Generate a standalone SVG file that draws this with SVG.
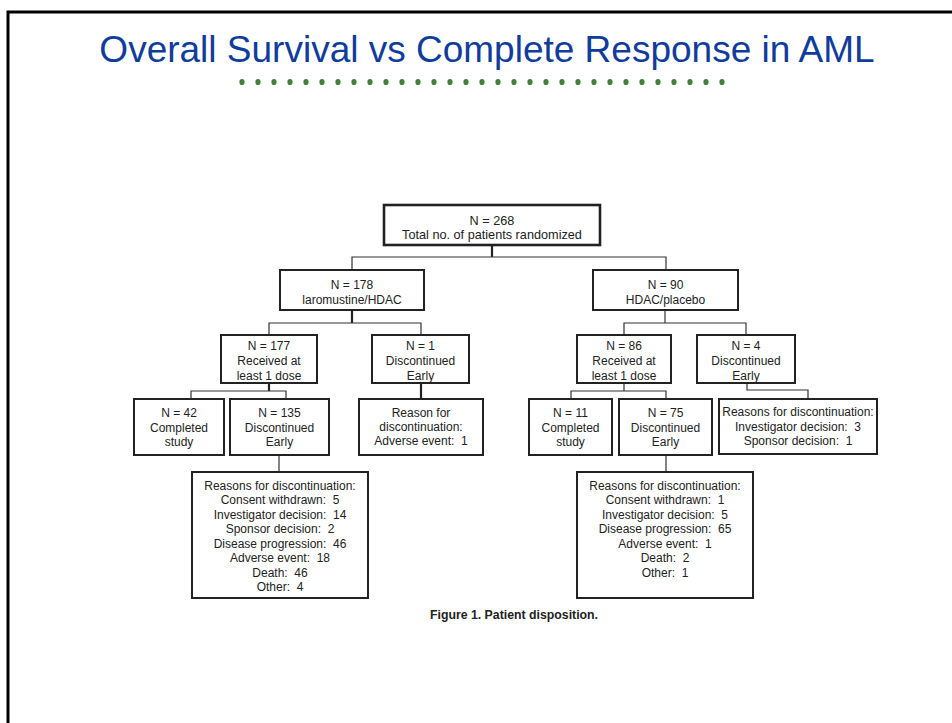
<svg xmlns="http://www.w3.org/2000/svg" width="952" height="723" viewBox="0 0 952 723">
<style>
.box{fill:#fff;stroke:#222;stroke-width:2}
.top{stroke-width:2.6}
.t{font-family:"Liberation Sans",Arial,sans-serif;font-size:12px;fill:#222;text-anchor:middle;white-space:pre}
.tl{font-size:12.7px}
.c{fill:none;stroke:#333;stroke-width:1.2}
.ck{fill:none;stroke:#222;stroke-width:2.2}
.dot{fill:#3f7f3f}
</style>
<rect width="952" height="723" fill="#fff"/>
<path d="M8 723 V12 H952" fill="none" stroke="#000" stroke-width="3"/>
<text x="487" y="62" font-family="Liberation Sans,Arial,sans-serif" font-size="37" fill="#103c9c" text-anchor="middle">Overall Survival vs Complete Response in AML</text>
<g id="dots">
<ellipse class="dot" cx="242" cy="82" rx="2.6" ry="3.1"/><ellipse class="dot" cx="258" cy="82" rx="2.6" ry="3.1"/><ellipse class="dot" cx="274" cy="82" rx="2.6" ry="3.1"/><ellipse class="dot" cx="290" cy="82" rx="2.6" ry="3.1"/><ellipse class="dot" cx="306" cy="82" rx="2.6" ry="3.1"/><ellipse class="dot" cx="322" cy="82" rx="2.6" ry="3.1"/><ellipse class="dot" cx="338" cy="82" rx="2.6" ry="3.1"/><ellipse class="dot" cx="354" cy="82" rx="2.6" ry="3.1"/><ellipse class="dot" cx="370" cy="82" rx="2.6" ry="3.1"/><ellipse class="dot" cx="386" cy="82" rx="2.6" ry="3.1"/><ellipse class="dot" cx="402" cy="82" rx="2.6" ry="3.1"/><ellipse class="dot" cx="418" cy="82" rx="2.6" ry="3.1"/><ellipse class="dot" cx="434" cy="82" rx="2.6" ry="3.1"/><ellipse class="dot" cx="450" cy="82" rx="2.6" ry="3.1"/><ellipse class="dot" cx="466" cy="82" rx="2.6" ry="3.1"/><ellipse class="dot" cx="482" cy="82" rx="2.6" ry="3.1"/><ellipse class="dot" cx="498" cy="82" rx="2.6" ry="3.1"/><ellipse class="dot" cx="514" cy="82" rx="2.6" ry="3.1"/><ellipse class="dot" cx="530" cy="82" rx="2.6" ry="3.1"/><ellipse class="dot" cx="546" cy="82" rx="2.6" ry="3.1"/><ellipse class="dot" cx="562" cy="82" rx="2.6" ry="3.1"/><ellipse class="dot" cx="578" cy="82" rx="2.6" ry="3.1"/><ellipse class="dot" cx="594" cy="82" rx="2.6" ry="3.1"/><ellipse class="dot" cx="610" cy="82" rx="2.6" ry="3.1"/><ellipse class="dot" cx="626" cy="82" rx="2.6" ry="3.1"/><ellipse class="dot" cx="642" cy="82" rx="2.6" ry="3.1"/><ellipse class="dot" cx="658" cy="82" rx="2.6" ry="3.1"/><ellipse class="dot" cx="674" cy="82" rx="2.6" ry="3.1"/><ellipse class="dot" cx="690" cy="82" rx="2.6" ry="3.1"/><ellipse class="dot" cx="706" cy="82" rx="2.6" ry="3.1"/><ellipse class="dot" cx="722" cy="82" rx="2.6" ry="3.1"/>
</g>
<g id="connectors">
<path class="ck" d="M492 245 V257"/>
<path class="c" d="M352 270 V257 H666 V270"/>
<path class="ck" d="M352 310 V323"/>
<path class="c" d="M269 335 V323 H421 V335"/>
<path class="c" d="M665 310 V323"/>
<path class="c" d="M624 335 V323 H746 V335"/>
<path class="ck" d="M269 383 V391"/>
<path class="c" d="M191 399 V391 H286 V399"/>
<path class="ck" d="M421 383 V399"/>
<path class="c" d="M624 383 V391"/>
<path class="c" d="M571 399 V391 H666 V399"/>
<path class="c" d="M747 383 V390 H808 V399"/>
<path class="c" d="M279 455 V472"/>
<path class="c" d="M666 455 V472"/>
</g>
<g id="n268"><rect class="box top" x="384" y="205" width="216" height="40"/><text class="t tl" x="492" y="225">N = 268</text><text class="t tl" x="492" y="238.5">Total no. of patients randomized</text></g>
<g id="n178"><rect class="box" x="280" y="270" width="144" height="40"/><text class="t" x="352" y="288.5">N = 178</text><text class="t" x="352" y="303.5">laromustine/HDAC</text></g>
<g id="n90"><rect class="box" x="593" y="270" width="145" height="40"/><text class="t" x="665.5" y="288.5">N = 90</text><text class="t" x="665.5" y="303.5">HDAC/placebo</text></g>
<g id="n177"><rect class="box" x="221" y="335" width="96" height="48"/><text class="t" x="269" y="350">N = 177</text><text class="t" x="269" y="365">Received at</text><text class="t" x="269" y="379.5">least 1 dose</text></g>
<g id="n1"><rect class="box" x="372" y="335" width="97" height="48"/><text class="t" x="420.5" y="350">N = 1</text><text class="t" x="420.5" y="365">Discontinued</text><text class="t" x="420.5" y="379.5">Early</text></g>
<g id="n86"><rect class="box" x="577" y="335" width="94" height="48"/><text class="t" x="624" y="350">N = 86</text><text class="t" x="624" y="365">Received at</text><text class="t" x="624" y="379.5">least 1 dose</text></g>
<g id="n4"><rect class="box" x="697" y="335" width="98" height="48"/><text class="t" x="746" y="350">N = 4</text><text class="t" x="746" y="365">Discontinued</text><text class="t" x="746" y="379.5">Early</text></g>
<g id="n42"><rect class="box" x="134" y="399" width="90" height="56"/><text class="t" x="179" y="416.5">N = 42</text><text class="t" x="179" y="431.5">Completed</text><text class="t" x="179" y="446">study</text></g>
<g id="n135"><rect class="box" x="230" y="399" width="99" height="56"/><text class="t" x="279.5" y="416.5">N = 135</text><text class="t" x="279.5" y="431.5">Discontinued</text><text class="t" x="279.5" y="446">Early</text></g>
<g id="r1"><rect class="box" x="359" y="399" width="124" height="56"/><text class="t" x="421" y="416.5">Reason for</text><text class="t" x="421" y="431">discontinuation:</text><text class="t" x="421" y="445">Adverse event:  1</text></g>
<g id="n11"><rect class="box" x="529" y="399" width="83" height="56"/><text class="t" x="570.5" y="416.5">N = 11</text><text class="t" x="570.5" y="431.5">Completed</text><text class="t" x="570.5" y="446">study</text></g>
<g id="n75"><rect class="box" x="619" y="399" width="93" height="56"/><text class="t" x="665.5" y="416.5">N = 75</text><text class="t" x="665.5" y="431.5">Discontinued</text><text class="t" x="665.5" y="446">Early</text></g>
<g id="r4"><rect class="box" x="719" y="399" width="158" height="55"/><text class="t" x="798" y="416">Reasons for discontinuation:</text><text class="t" x="798" y="430.5">Investigator decision:  3</text><text class="t" x="798" y="445">Sponsor decision:  1</text></g>
<g id="r135"><rect class="box" x="192" y="472" width="176" height="126"/>
<text class="t" x="280" y="489.5">Reasons for discontinuation:</text>
<text class="t" x="280" y="504">Consent withdrawn:  5</text>
<text class="t" x="280" y="518.5">Investigator decision:  14</text>
<text class="t" x="280" y="533">Sponsor decision:  2</text>
<text class="t" x="280" y="547.5">Disease progression:  46</text>
<text class="t" x="280" y="562">Adverse event:  18</text>
<text class="t" x="280" y="576.5">Death:  46</text>
<text class="t" x="280" y="591">Other:  4</text>
</g>
<g id="r75"><rect class="box" x="577" y="472" width="176" height="126"/>
<text class="t" x="665" y="489.5">Reasons for discontinuation:</text>
<text class="t" x="665" y="504">Consent withdrawn:  1</text>
<text class="t" x="665" y="518.5">Investigator decision:  5</text>
<text class="t" x="665" y="533">Disease progression:  65</text>
<text class="t" x="665" y="547.5">Adverse event:  1</text>
<text class="t" x="665" y="562">Death:  2</text>
<text class="t" x="665" y="576.5">Other:  1</text>
</g>
<text x="514" y="619" font-family="Liberation Sans,Arial,sans-serif" font-size="12.3" font-weight="bold" fill="#222" text-anchor="middle">Figure 1. Patient disposition.</text>
</svg>
